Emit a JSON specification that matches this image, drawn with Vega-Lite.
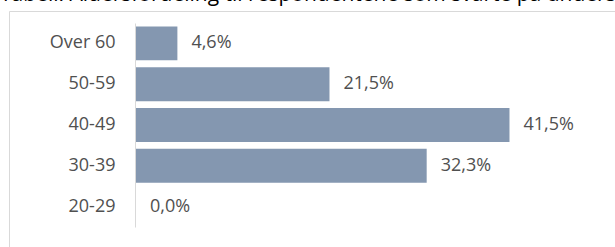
{
  "$schema": "https://vega.github.io/schema/vega-lite/v6.json",
  "autosize": "none",
  "padding": {"left": 9, "top": 11, "right": -14, "bottom": -9},
  "width": 620,
  "height": 245,
  "config": {
    "locale": {"number": {"decimal": ",", "thousands": " ", "grouping": [3], "currency": ["", " kr"]}},
    "view": {"stroke": "#d9d9d9", "strokeWidth": 1},
    "font": "Open Sans"
  },
  "title": {
    "text": "Tabell: Aldersfordeling til respondentene som svarte på undersøkelsen",
    "anchor": "start",
    "frame": "group",
    "baseline": "alphabetic",
    "offset": 0,
    "dy": 11,
    "dx": -9,
    "font": "Open Sans",
    "fontSize": 21,
    "fontWeight": "normal",
    "color": "#000000"
  },
  "data": {
    "values": [
      {"alder": "Over 60", "andel": 0.046},
      {"alder": "50-59", "andel": 0.215},
      {"alder": "40-49", "andel": 0.415},
      {"alder": "30-39", "andel": 0.323},
      {"alder": "20-29", "andel": 0.0}
    ]
  },
  "encoding": {
    "y": {
      "field": "alder",
      "type": "nominal",
      "sort": ["Over 60", "50-59", "40-49", "30-39", "20-29"],
      "scale": {"range": [12, 216], "paddingInner": 0.17, "paddingOuter": 0.085},
      "axis": {
        "title": null,
        "offset": -126,
        "ticks": false,
        "labelPadding": 20,
        "labelFont": "Open Sans",
        "labelFontSize": 18,
        "labelColor": "#505050",
        "domainColor": "#d9d9d9",
        "domainWidth": 1,
        "grid": false,
        "zindex": 1
      }
    },
    "x": {
      "field": "andel",
      "type": "quantitative",
      "scale": {"domain": [-0.1411, 0.5478], "nice": false, "zero": false},
      "axis": null
    }
  },
  "layer": [
    {"mark": {"type": "bar", "color": "#8497b0"}},
    {
      "mark": {"type": "text", "align": "left", "baseline": "middle", "dx": 14, "font": "Open Sans", "fontSize": 18, "color": "#505050"},
      "encoding": {"text": {"field": "andel", "type": "quantitative", "format": ".1%"}}
    }
  ]
}
